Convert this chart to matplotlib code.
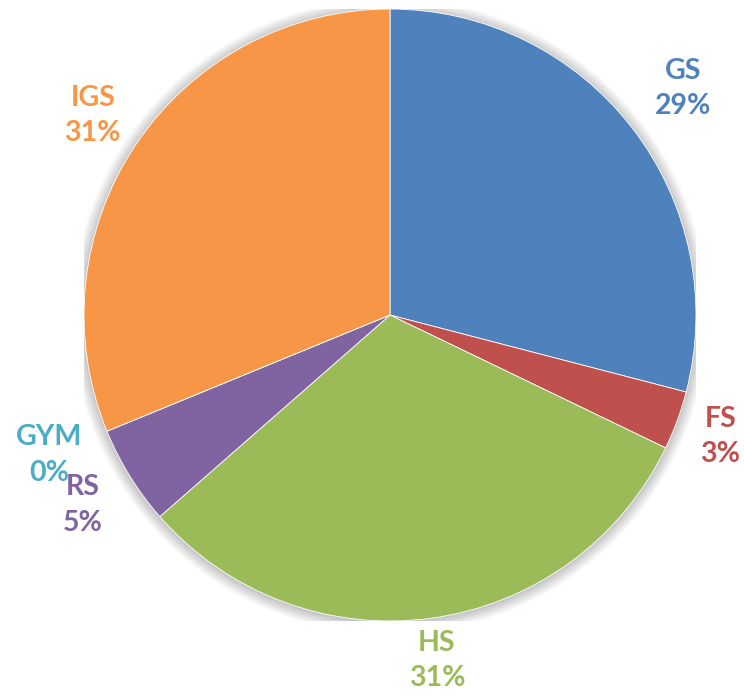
import matplotlib
matplotlib.use("Agg")
import matplotlib.pyplot as plt
import numpy as np
from matplotlib.patches import Circle

categories = ["GS", "FS", "HS", "RS", "GYM", "IGS"]
values = [29.05, 3.1, 31.4, 5.25, 0.0, 31.2]
pct_labels = ["29%", "3%", "31%", "5%", "0%", "31%"]
colors = ["#4F81BD", "#C0504D", "#9BBB59", "#8064A2", "#4BACC6", "#F79646"]
label_dist = [1.21, 1.15, 1.14, 1.18, 1.205, 1.17]

W, H = 744, 697
fig = plt.figure(figsize=(W / 100, H / 100), dpi=100)
cx, cy, R = 390, 315, 306
ax = fig.add_axes([(cx - R) / W, (H - cy - R) / H, 2 * R / W, 2 * R / H])
ax.set_xlim(-1, 1)
ax.set_ylim(-1, 1)
ax.set_aspect("equal")
ax.axis("off")

# soft shadow
for k in range(12):
    ax.add_patch(Circle((0, -0.004), 1 + 0.0035 * k, color="black",
                        alpha=0.018, lw=0, zorder=0))

wedges, _ = ax.pie(values, colors=colors, startangle=90, counterclock=False,
                   radius=1, wedgeprops=dict(linewidth=0.6, edgecolor="white"))
for w in wedges:
    w.set_zorder(2)

for w, cat, pl, col, d in zip(wedges, categories, pct_labels, colors, label_dist):
    ang = np.deg2rad((w.theta1 + w.theta2) / 2)
    x, y = d * np.cos(ang), d * np.sin(ang)
    ax.text(x, y, f"{cat}\n{pl}", color=col, ha="center", va="center",
            fontsize=20.5, fontweight="bold", family=["Lato", "DejaVu Sans"],
            linespacing=1.45, zorder=5, clip_on=False)

ax.set_xlim(-1, 1)
ax.set_ylim(-1, 1)
fig.savefig("out.png", dpi=100, facecolor="white")
